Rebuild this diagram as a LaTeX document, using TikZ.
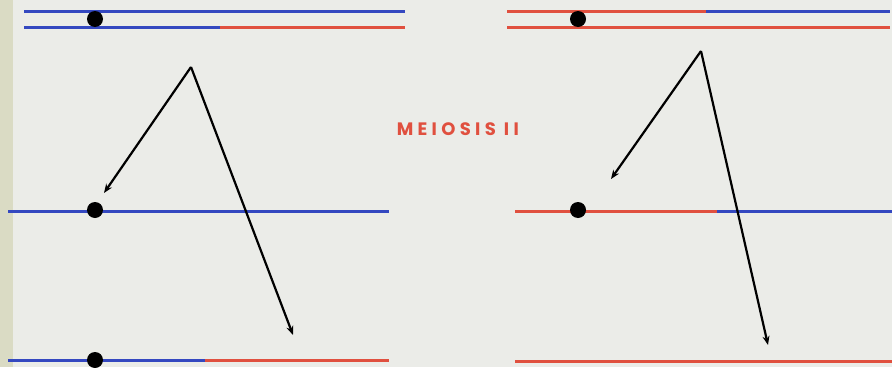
\documentclass[tikz,border=0pt]{standalone}
\usepackage{fontspec}
\setmainfont{Poppins}
\usetikzlibrary{arrows.meta}
\definecolor{bg}{HTML}{EBECE8}
\definecolor{strip}{HTML}{DADBC4}
\definecolor{cblue}{HTML}{3448C0}
\definecolor{cred}{HTML}{E0503F}
\tikzset{
  chrom/.style={line width=3pt},
  bl/.style={chrom, cblue},
  rd/.style={chrom, cred},
  centro/.style={circle, fill=black, minimum size=16pt, inner sep=0pt},
  arr/.style={line width=2.2pt, black, -{Stealth[length=9pt,width=7pt]}},
}
\begin{document}
\begin{tikzpicture}[x=1pt,y=-1pt]
\fill[bg] (0,0) rectangle (892,367);
\fill[strip] (0,0) rectangle (13,367);
\useasboundingbox (0,0) rectangle (892,367);
% left top pair
\coordinate (lt1a) at (24,11); \coordinate (lt1b) at (405,11);
\draw[bl] (lt1a) -- (lt1b);
\coordinate (lt2a) at (24,27); \coordinate (lt2m) at (220,27); \coordinate (lt2b) at (405,27);
\draw[bl] (lt2a) -- (lt2m);
\draw[rd] (lt2m) -- (lt2b);
\node[centro] (ltc) at (95,19) {};
% right top pair
\coordinate (rt1a) at (507,11); \coordinate (rt1m) at (706,11); \coordinate (rt1b) at (890,11);
\draw[rd] (rt1a) -- (rt1m);
\draw[bl] (rt1m) -- (rt1b);
\coordinate (rt2a) at (507,27); \coordinate (rt2b) at (890,27);
\draw[rd] (rt2a) -- (rt2b);
\node[centro] (rtc) at (578,19) {};
% left middle
\coordinate (lm1) at (8,211); \coordinate (lm2) at (389,211);
\draw[bl] (lm1) -- (lm2);
\node[centro] (lmc) at (95,210) {};
% right middle
\coordinate (rm1) at (515,211); \coordinate (rmm) at (717,211); \coordinate (rm2) at (892,211);
\draw[rd] (rm1) -- (rmm);
\draw[bl] (rmm) -- (rm2);
\node[centro] (rmc) at (578,210) {};
% left bottom
\coordinate (lb1) at (8,360); \coordinate (lbm) at (205,360); \coordinate (lb2) at (389,360);
\draw[bl] (lb1) -- (lbm);
\draw[rd] (lbm) -- (lb2);
\node[centro] (lbc) at (95,360) {};
% right bottom
\coordinate (rb1) at (515,361); \coordinate (rb2) at (892,361);
\draw[rd] (rb1) -- (rb2);
% arrows
\coordinate (la) at (191,67);
\coordinate (lt) at (104,193);
\coordinate (lbt) at (293,335);
\draw[arr] (la) -- (lt);
\draw[arr] (la) -- (lbt);
\coordinate (ra) at (701,51);
\coordinate (rtp) at (611,179);
\coordinate (rbt) at (768,345);
\draw[arr] (ra) -- (rtp);
\draw[arr] (ra) -- (rbt);
% label
\node[text=cred, font=\fontsize{18}{18}\selectfont\addfontfeatures{LetterSpace=24}, inner sep=0pt] (lab) at (460,129) {\textbf{MEIOSIS II}};
\end{tikzpicture}
\end{document}
